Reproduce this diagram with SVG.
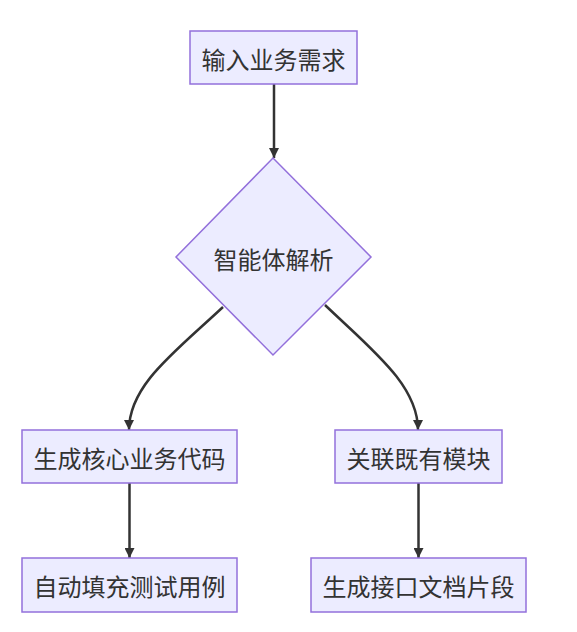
<svg xmlns="http://www.w3.org/2000/svg" width="577" height="632" viewBox="0 0 577 632">
<defs>
<style>
.n{fill:#ECECFF;stroke:#9370DB;stroke-width:1.5}
.t{font-family:"Noto Sans CJK SC","Liberation Sans",sans-serif;font-size:24px;fill:#333;text-anchor:middle;dominant-baseline:central}
.e{fill:none;stroke:#333;stroke-width:2.5}
</style>
<marker id="ah" viewBox="0 0 10 10" refX="10" refY="5" markerWidth="10" markerHeight="10" markerUnits="userSpaceOnUse" orient="auto">
<path d="M0,0 L10,5 L0,10 z" fill="#333"/>
</marker>
</defs>
<rect width="577" height="632" fill="#fff"/>
<g id="edges">
<path class="e" d="M274,84 L274,158" marker-end="url(#ah)"/>
<path class="e" d="M223,307 C175,352 129,385 129,430" marker-end="url(#ah)"/>
<path class="e" d="M325,305 C372,350 418,385 418,430" marker-end="url(#ah)"/>
<path class="e" d="M129.5,483 L129.5,558" marker-end="url(#ah)"/>
<path class="e" d="M418.5,483 L418.5,558" marker-end="url(#ah)"/>
</g>
<g id="A"><rect class="n" x="190" y="31" width="167" height="53"/><text class="t" x="273.5" y="58">输入业务需求</text></g>
<g id="B"><polygon class="n" points="273,158 371,257 273,355 176,257"/><text class="t" x="273.5" y="258">智能体解析</text></g>
<g id="C"><rect class="n" x="22" y="430" width="215" height="53"/><text class="t" x="129.5" y="457">生成核心业务代码</text></g>
<g id="D"><rect class="n" x="335" y="430" width="167" height="53"/><text class="t" x="418.5" y="457">关联既有模块</text></g>
<g id="E"><rect class="n" x="22" y="558" width="215" height="54"/><text class="t" x="129.5" y="585">自动填充测试用例</text></g>
<g id="F"><rect class="n" x="311" y="558" width="215" height="54"/><text class="t" x="418.5" y="585">生成接口文档片段</text></g>
</svg>
